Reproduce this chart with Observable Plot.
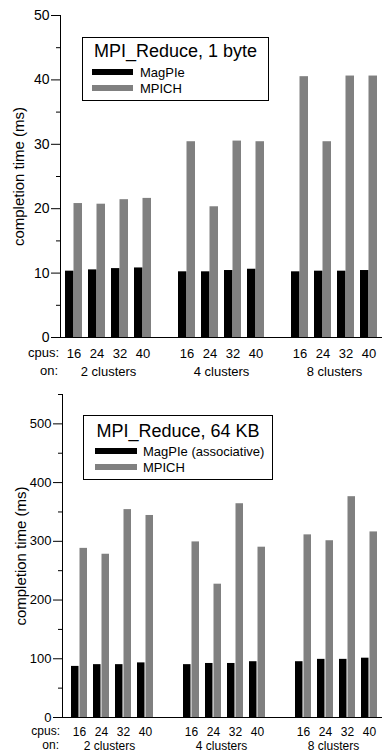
<!DOCTYPE html>
<html>
<head>
<meta charset="utf-8">
<script src="https://cdn.jsdelivr.net/npm/d3@7"></script>
<script src="https://cdn.jsdelivr.net/npm/@observablehq/plot@0.6"></script>
<style>
  body { margin: 0; background: #fff; font-family: "Liberation Sans", Arial, sans-serif; color: #000; }
  .chart { position: relative; width: 382px; overflow: visible; }
  .chart svg { display: block; }
  .legend { position: absolute; border: 1px solid #000; background: #fff; box-sizing: border-box; }
  .legend .title { position: absolute; left: 0; right: 0; text-align: center; font-size: 18px; line-height: 18px; white-space: nowrap; }
  .legend .item { position: absolute; font-size: 13px; line-height: 13px; white-space: nowrap; }
  .legend .sw { position: absolute; height: 6px; }
  .side { position: absolute; text-align: right; white-space: nowrap; }
</style>
</head>
<body>
<div id="root"></div>
<script>
// ---- data ----
const clusters = ["2 clusters", "4 clusters", "8 clusters"];
const cpus = [16, 24, 32, 40];
const seriesNames1 = ["MagPIe", "MPICH"];
const seriesNames2 = ["MagPIe (associative)", "MPICH"];
const title1 = "MPI_Reduce, 1 byte";
const title2 = "MPI_Reduce, 64 KB";
const yLabel = "completion time (ms)";

// 1 byte (ms), order: 2 clusters 16..40, 4 clusters 16..40, 8 clusters 16..40
const byte1MagPIe = [10.3, 10.5, 10.7, 10.8, 10.2, 10.2, 10.4, 10.6, 10.2, 10.3, 10.3, 10.4];
const byte1MPICH  = [20.8, 20.7, 21.4, 21.6, 30.4, 20.3, 30.5, 30.4, 40.5, 30.4, 40.6, 40.6];
// 64 KB (ms)
const kb64MagPIe = [87, 90, 90, 93, 90, 92, 92, 95, 95, 99, 99, 101];
const kb64MPICH  = [288, 278, 354, 344, 299, 227, 364, 290, 311, 301, 376, 316];

const yMajor1 = [0, 10, 20, 30, 40, 50];
const yMinor1 = [5, 15, 25, 35, 45];
const yMajor2 = [0, 100, 200, 300, 400, 500];
const yMinor2 = [50, 150, 250, 350, 450, 550];

const BLACK = "#000000";
const GRAY = "#808080";

function makeRows(a, b) {
  return a.map((v, i) => ({
    cluster: clusters[Math.floor(i / 4)],
    cpus: cpus[i % 4],
    magpie: v,
    mpich: b[i]
  }));
}

function makeChart(cfg) {
  const rows = makeRows(cfg.magpie, cfg.mpich);
  const pairStep = 23, pairW = 17;
  const W = 3 * pairStep + pairW + cfg.outerL + cfg.outerR;
  const outer = (cfg.outerL + cfg.outerR);
  const half = pairW / 2;
  const fs = cfg.fs;
  const svg = Plot.plot({
    width: 382,
    height: cfg.height,
    marginTop: cfg.marginTop,
    marginBottom: cfg.marginBottom,
    marginLeft: cfg.marginLeft,
    marginRight: 0,
    style: "font-family: 'Liberation Sans', Arial, sans-serif; font-size: 13px; color: #000; background: transparent; overflow: visible;",
    fx: { domain: clusters, paddingInner: cfg.gap / (W + cfg.gap), paddingOuter: 0, label: null },
    x: { domain: cpus, paddingInner: (pairStep - pairW) / pairStep, paddingOuter: outer / 2 / pairStep, align: cfg.outerL / outer, label: null },
    y: { domain: [0, cfg.yMax], label: null },
    marks: [
      Plot.barY(rows, { fx: "cluster", x: "cpus", y: "magpie", fill: BLACK, insetRight: half }),
      Plot.barY(rows, { fx: "cluster", x: "cpus", y: "mpich", fill: GRAY, insetLeft: half }),
      Plot.ruleY([0], { stroke: "#000", insetRight: -cfg.gap }),
      Plot.frame({ anchor: "left", facetAnchor: "left", stroke: "#000" }),
      Plot.axisX({ tickSize: 0, tickPadding: cfg.xPad, fontSize: fs, label: null }),
      Plot.axisFx({ anchor: "bottom", tickSize: 0, tickPadding: cfg.fxPad, fontSize: fs, label: null }),
      Plot.axisY({ ticks: cfg.major, tickSize: 9, tickPadding: 2, fontSize: cfg.yfs, label: null }),
      Plot.axisY({ ticks: cfg.minor, tickSize: 4, tickFormat: () => "", label: null }),
      Plot.axisY({ ticks: [], tickSize: 0, fontSize: 15, label: yLabel, labelAnchor: "center", labelArrow: "none", labelOffset: 47 })
    ]
  });
  const div = document.createElement("div");
  div.className = "chart";
  div.style.height = cfg.height + "px";
  div.appendChild(svg);

  // legend (inside plot area, as in the original)
  const lg = document.createElement("div");
  lg.className = "legend";
  Object.assign(lg.style, { left: cfg.lg.left + "px", top: cfg.lg.top + "px", width: cfg.lg.width + "px", height: cfg.lg.height + "px" });
  const t = document.createElement("div");
  t.className = "title";
  t.style.top = cfg.lg.titleTop + "px";
  t.textContent = cfg.title;
  lg.appendChild(t);
  [[cfg.names[0], BLACK], [cfg.names[1], GRAY]].forEach(([name, col], i) => {
    const cy = cfg.lg.rows[i];
    const sw = document.createElement("div");
    sw.className = "sw";
    Object.assign(sw.style, { left: cfg.lg.swLeft + "px", width: cfg.lg.swWidth + "px", top: (cy - 3) + "px", background: col });
    lg.appendChild(sw);
    const it = document.createElement("div");
    it.className = "item";
    Object.assign(it.style, { left: cfg.lg.textLeft + "px", top: (cy - 6.5) + "px" });
    it.textContent = name;
    lg.appendChild(it);
  });
  div.appendChild(lg);

  // row captions left of the x axis, aligned with the axis text rows
  const base = cfg.height - cfg.marginBottom;
  [["cpus:", cfg.xPad, cfg.marginLeft - 1], ["on:", cfg.fxPad, cfg.marginLeft - 2]].forEach(([txt, pad, right]) => {
    const s = document.createElement("div");
    s.className = "side";
    const center = base + pad + 0.36 * fs;
    Object.assign(s.style, {
      right: (382 - right) + "px", top: (center - fs / 2) + "px",
      fontSize: fs + "px", lineHeight: fs + "px"
    });
    s.textContent = txt;
    div.appendChild(s);
  });
  return div;
}

const root = document.getElementById("root");
root.appendChild(makeChart({
  title: title1, names: seriesNames1, magpie: byte1MagPIe, mpich: byte1MPICH,
  yMax: 50, major: yMajor1, minor: yMinor1,
  height: 380, marginTop: 15, marginBottom: 43, marginLeft: 60,
  outerL: 5, outerR: 5, gap: 17, xPad: 11, fxPad: 29, fs: 13, yfs: 14,
  lg: { left: 82, top: 37, width: 187, height: 64, titleTop: 4, rows: [34, 50], swLeft: 9, swWidth: 41, textLeft: 57 }
}));
root.appendChild(makeChart({
  title: title2, names: seriesNames2, magpie: kb64MagPIe, mpich: kb64MPICH,
  yMax: 550, major: yMajor2, minor: yMinor2,
  height: 374, marginTop: 14, marginBottom: 37, marginLeft: 61,
  outerL: 7, outerR: 2, gap: 18, xPad: 10, fxPad: 24, fs: 12, yfs: 13,
  lg: { left: 83, top: 415 - 380, width: 190, height: 65, titleTop: 6, rows: [35, 51], swLeft: 11, swWidth: 42, textLeft: 59 }
}));
</script>
</body>
</html>
